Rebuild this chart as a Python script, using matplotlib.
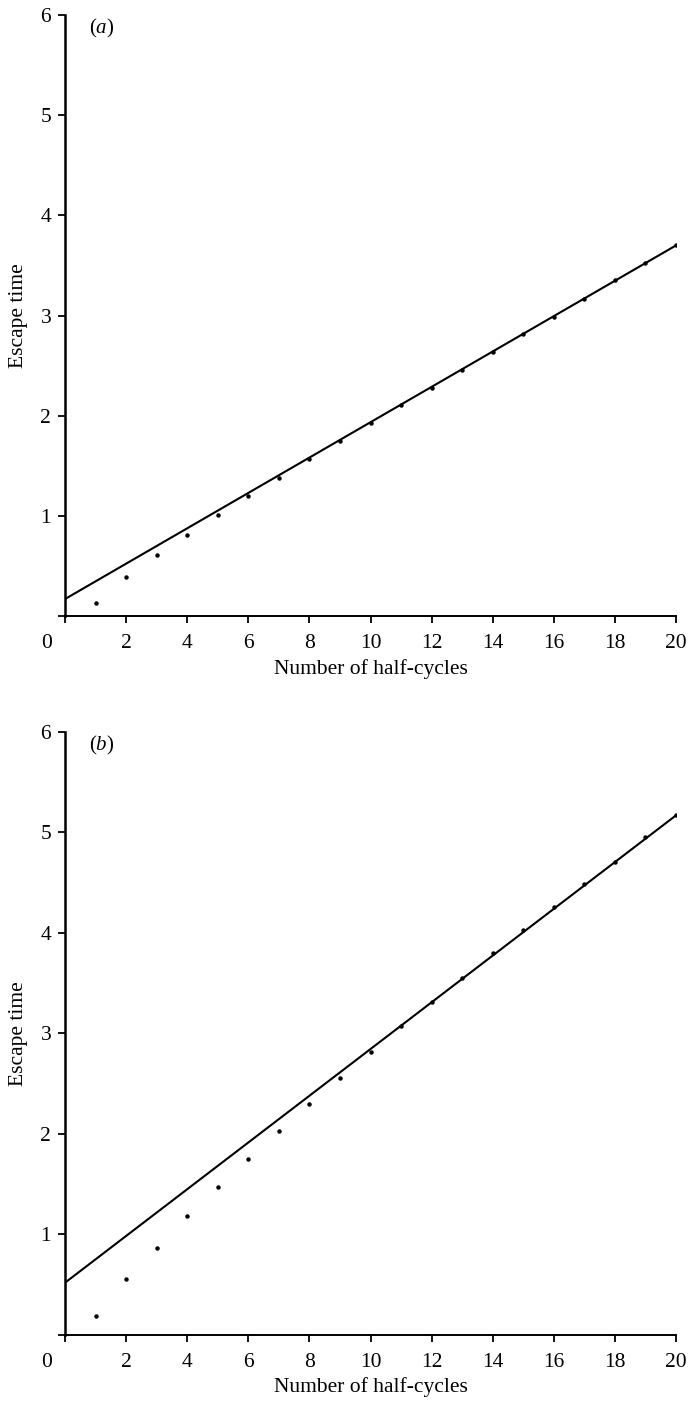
import numpy as np
import matplotlib.pyplot as plt

plt.rcParams['font.family'] = ['Liberation Serif', 'DejaVu Serif']
plt.rcParams['mathtext.fontset'] = 'custom'
plt.rcParams['mathtext.rm'] = 'Liberation Serif'
plt.rcParams['mathtext.it'] = 'Liberation Serif:italic'

# half-cycle counts
half_cycles = list(range(1, 21))

# panel (a): computed escape times and fitted line
escape_a = [0.13, 0.39, 0.61, 0.81, 1.01, 1.20, 1.38, 1.57, 1.75, 1.93,
            2.11, 2.28, 2.46, 2.64, 2.82, 2.99, 3.17, 3.35, 3.52, 3.70]
fit_x = [0, 20]
fit_a = [0.17, 3.70]

# panel (b)
escape_b = [0.19, 0.56, 0.87, 1.18, 1.47, 1.75, 2.03, 2.30, 2.56, 2.82,
            3.07, 3.31, 3.55, 3.80, 4.03, 4.26, 4.49, 4.71, 4.95, 5.17]
fit_b = [0.52, 5.17]

x_ticks = list(range(0, 21, 2))
y_ticks = list(range(0, 7))


def desenhar_painel(ax, pontos, reta, rotulo):
    ax.plot(fit_x, reta, color='black', linewidth=1.5, solid_capstyle='round')
    ax.plot(half_cycles, pontos, linestyle='none', marker='o', markersize=2.2,
            color='black')

    ax.set_xlim(0, 20)
    ax.set_ylim(0, 6)
    for lado in ['top', 'right']:
        ax.spines[lado].set_visible(False)
    ax.spines['left'].set_linewidth(1.8)
    ax.spines['bottom'].set_linewidth(1.4)

    ax.set_xticks(x_ticks)
    ax.set_xticklabels([''] + [str(v) for v in x_ticks[1:]])
    ax.set_yticks(y_ticks)
    ax.set_yticklabels([''] + [str(v) for v in y_ticks[1:]])
    ax.tick_params(axis='both', direction='out', length=5, width=1.3,
                   labelsize=15.5)
    ax.tick_params(axis='x', pad=8)
    ax.tick_params(axis='y', pad=5)

    # the shared origin label sits below and left of the corner
    ax.annotate('0', xy=(0, 0), xycoords='data', xytext=(-13, -20),
                textcoords='offset points', ha='center', va='center',
                fontsize=15.5)

    ax.set_xlabel('Number of half-cycles', fontsize=15.5, labelpad=4)
    ax.set_ylabel('Escape time', fontsize=15.5, labelpad=9)
    ax.text(0.06, 0.978, rotulo, transform=ax.transAxes, fontsize=15,
            ha='center', va='center')


fig = plt.figure(figsize=(6.91, 14.03), dpi=100)
ax_a = fig.add_axes([0.0941, 0.5609, 0.8842, 0.4284])
ax_b = fig.add_axes([0.0941, 0.0485, 0.8842, 0.4298])

desenhar_painel(ax_a, escape_a, fit_a, r'$\mathrm{(}\mathit{a}\mathrm{)}$')
desenhar_painel(ax_b, escape_b, fit_b, r'$\mathrm{(}\mathit{b}\mathrm{)}$')

fig.savefig('out.png', dpi=100)
